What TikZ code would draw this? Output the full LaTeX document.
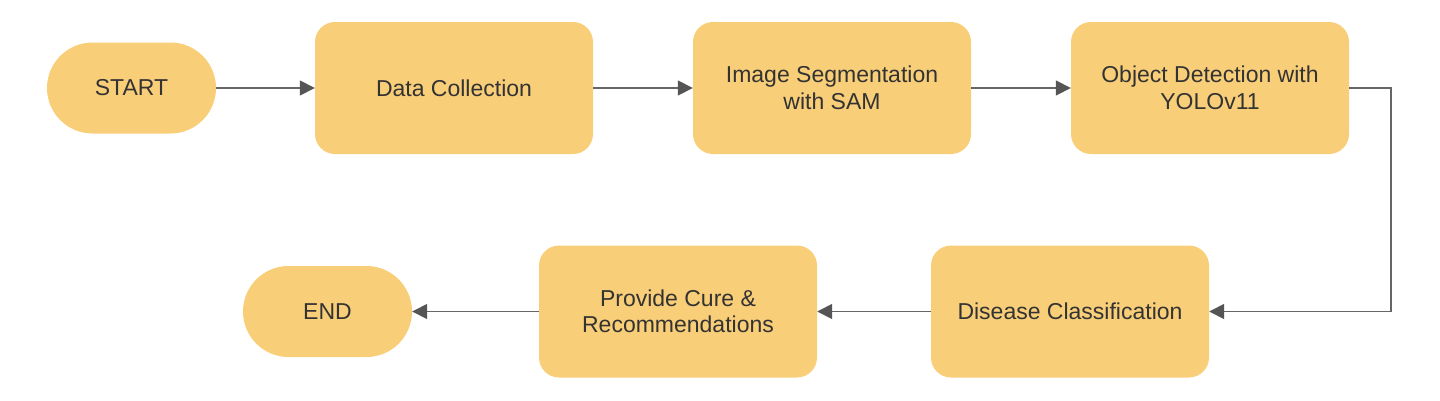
\documentclass[tikz,border=0pt]{standalone}
\usepackage{fontspec}
\setmainfont{Liberation Sans}
\usetikzlibrary{arrows.meta}
\definecolor{boxfill}{HTML}{F9CE78}
\definecolor{txt}{HTML}{333333}
\definecolor{lin}{HTML}{666666}
\definecolor{tip}{HTML}{555555}
\tikzset{
  proc/.style={draw=none, fill=boxfill, rounded corners=20pt, minimum width=278pt, minimum height=132pt, align=center, text=txt, font=\fontsize{23}{26.5}\selectfont, inner sep=0pt},
  term/.style={draw=none, fill=boxfill, rounded corners=45.5pt, minimum width=169pt, minimum height=91pt, align=center, text=txt, font=\fontsize{23}{26.5}\selectfont, inner sep=0pt},
  conn/.style={draw=lin, line width=1.6pt, -{Triangle[length=15pt,width=15pt,fill=tip,color=tip]}}
}
\begin{document}
\begin{tikzpicture}[x=1pt,y=-1pt]
\useasboundingbox (0,0) rectangle (1440,400);
\node[term] (start) at (131.5,88) {START};
\node[proc] (data) at (454,88) {Data Collection};
\node[proc] (seg) at (832,88) {Image Segmentation\\with SAM};
\node[proc] (det) at (1210,88) {Object Detection with\\YOLOv11};
\node[proc] (dis) at (1070,311.5) {Disease Classification};
\node[proc] (cure) at (678,311.5) {Provide Cure \&\\Recommendations};
\node[term] (end) at (327.5,311.5) {END};
\draw[conn] (start.east) -- (data.west);
\draw[conn] (data.east) -- (seg.west);
\draw[conn] (seg.east) -- (det.west);
\draw[conn] (det.east) -- ++(42,0) |- (dis.east);
\draw[conn] (dis.west) -- (cure.east);
\draw[conn] (cure.west) -- (end.east);
\end{tikzpicture}
\end{document}
